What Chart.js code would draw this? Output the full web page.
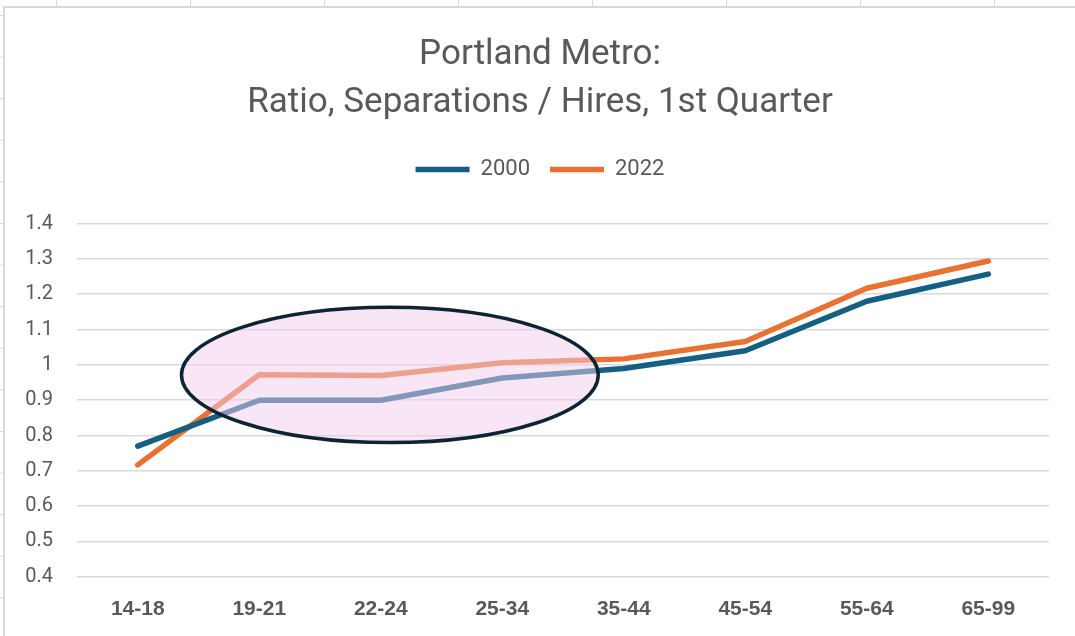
<!DOCTYPE html>
<html>
<head>
<meta charset="utf-8">
<script src="https://cdn.jsdelivr.net/npm/chart.js@4.4.1/dist/chart.umd.min.js"></script>
<style>
  body { margin: 0; background: #fff; }
  #wrap { width: 1075px; height: 636px; position: relative; }
</style>
</head>
<body>
<div id="wrap"><canvas id="one"></canvas></div>
<script>
// age groups and ratios
const ageGroups = ['14-18', '19-21', '22-24', '25-34', '35-44', '45-54', '55-64', '65-99'];
const ratio2000 = [0.77, 0.90, 0.90, 0.963, 0.99, 1.04, 1.18, 1.257];
const ratio2022 = [0.717, 0.972, 0.97, 1.006, 1.017, 1.066, 1.217, 1.294];
const yTicks = [0.4, 0.5, 0.6, 0.7, 0.8, 0.9, 1, 1.1, 1.2, 1.3, 1.4];

// highlighted region (category index / ratio units)
const ovalFrom = 0.36, ovalTo = 3.79;
const ovalLow = 0.78, ovalHigh = 1.163;

const ctx = document.getElementById('one');

// spreadsheet cells behind the chart + chart border
const sheetBg = {
  id: 'sheetBg',
  beforeDraw(chart) {
    const c = chart.ctx;
    c.save();
    c.fillStyle = '#fff';
    c.fillRect(0, 0, chart.width, chart.height);
    c.strokeStyle = '#d9d9d9';
    c.lineWidth = 1;
    for (let x = 56.5; x < chart.width; x += 134) {
      c.beginPath(); c.moveTo(x, 0); c.lineTo(x, 6); c.stroke();
    }
    for (let y = 15.5; y < chart.height; y += 41.6) {
      c.beginPath(); c.moveTo(0, y); c.lineTo(3, y); c.stroke();
    }
    c.lineWidth = 2;
    c.beginPath();
    c.moveTo(4, chart.height);
    c.lineTo(4, 7);
    c.lineTo(chart.width, 7);
    c.stroke();
    c.restore();
  }
};

// a bit more room under the legend
const legendGap = {
  id: 'legendGap',
  beforeInit(chart) {
    const fit = chart.legend.fit;
    chart.legend.fit = function () {
      fit.call(this);
      this.height += 33;
    };
  },
  // title + legend are centred on the whole chart box, not the padded area
  afterLayout(chart) {
    chart.titleBlock.left += 21;
    chart.legend.left += 21;
  }
};

// the pink oval drawn over the lines
const oval = {
  id: 'oval',
  afterDatasetsDraw(chart) {
    const x = chart.scales.x, y = chart.scales.y;
    const x1 = x.getPixelForValue(ovalFrom), x2 = x.getPixelForValue(ovalTo);
    const y1 = y.getPixelForValue(ovalHigh), y2 = y.getPixelForValue(ovalLow);
    const c = chart.ctx;
    c.save();
    c.beginPath();
    c.ellipse((x1 + x2) / 2, (y1 + y2) / 2, (x2 - x1) / 2, (y2 - y1) / 2, 0, 0, Math.PI * 2);
    c.fillStyle = 'rgba(241, 205, 238, 0.5)';
    c.fill();
    c.lineWidth = 3.5;
    c.strokeStyle = '#0e2433';
    c.stroke();
    c.restore();
  }
};

new Chart(ctx, {
  type: 'line',
  data: {
    labels: ageGroups,
    datasets: [{
      label: '2000',
      data: ratio2000,
      borderColor: '#156082',
      backgroundColor: '#156082',
      borderWidth: 5.5,
      borderCapStyle: 'round',
      borderJoinStyle: 'round',
      pointRadius: 0,
      tension: 0
    }, {
      label: '2022',
      data: ratio2022,
      borderColor: '#e97132',
      backgroundColor: '#e97132',
      borderWidth: 5.5,
      borderCapStyle: 'round',
      borderJoinStyle: 'round',
      pointRadius: 0,
      tension: 0
    }]
  },
  options: {
    responsive: true,
    maintainAspectRatio: false,
    animation: false,
    layout: { padding: { left: 10, right: 26, top: 0, bottom: 2 } },
    plugins: {
      title: {
        display: true,
        text: ['Portland Metro:', 'Ratio, Separations / Hires, 1st Quarter'],
        color: '#595959',
        font: { family: 'Roboto', size: 35, weight: 'normal', lineHeight: 1.38 },
        padding: { top: 31, bottom: 11 }
      },
      legend: {
        position: 'top',
        labels: {
          usePointStyle: true,
          pointStyle: 'line',
          pointStyleWidth: 54,
          color: '#595959',
          font: { family: 'Roboto', size: 22 },
          padding: 20
        }
      },
      tooltip: { enabled: false }
    },
    scales: {
      x: {
        offset: true,
        grid: { display: false },
        border: { display: false },
        ticks: {
          color: '#595959',
          font: { family: 'Liberation Sans', size: 21, weight: 'bold' },
          padding: 12,
          maxRotation: 0
        }
      },
      y: {
        min: 0.4,
        max: 1.4,
        afterBuildTicks(axis) { axis.ticks = yTicks.map(v => ({ value: v })); },
        afterFit(axis) { axis.width = 67; },
        grid: { color: '#d9d9d9', lineWidth: 1.5, drawTicks: false },
        border: { display: false },
        ticks: {
          color: '#595959',
          font: { family: 'Roboto', size: 20 },
          padding: 24,
          callback: v => String(v)
        }
      }
    }
  },
  plugins: [sheetBg, legendGap, oval]
});
</script>
</body>
</html>
